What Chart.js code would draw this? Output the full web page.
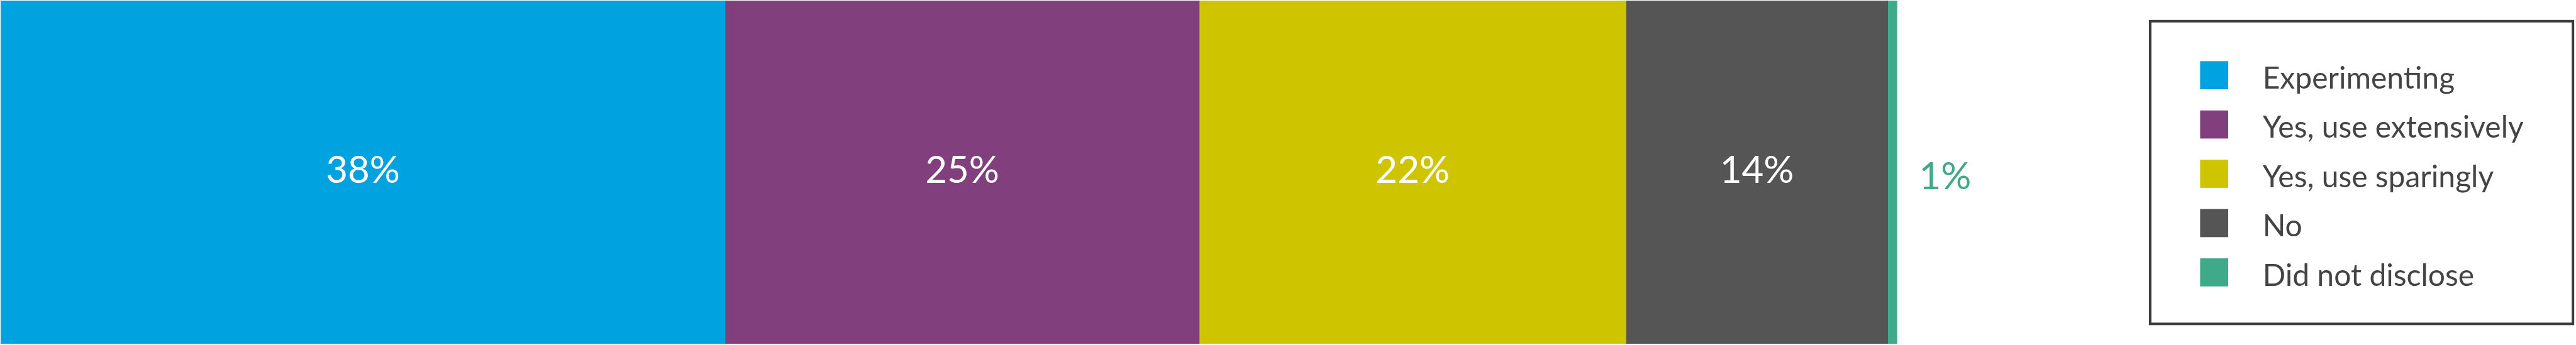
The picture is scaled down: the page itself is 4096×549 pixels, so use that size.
<!DOCTYPE html>
<html lang="en">
<head>
  <meta charset="UTF-8">
  <title>AI use</title>
  <script src="https://cdn.jsdelivr.net/npm/chart.js"></script>
  <style>
    body {
      margin: 0;
      background: #ffffff;
      overflow: hidden;
    }
    #wrap {
      width: 4096px;
      height: 549px;
    }
  </style>
</head>
<body>
  <div id="wrap">
    <canvas id="shareChart" width="4096" height="549"></canvas>
  </div>

  <script>
    // values (segment widths), labels as printed
    const categories = ["Experimenting", "Yes, use extensively", "Yes, use sparingly", "No", "Did not disclose"];
    const shares = [38.2, 25.0, 22.5, 13.8, 0.5];
    const shareLabels = ["38%", "25%", "22%", "14%", "1%"];
    const colors = ["#00a2e0", "#823f7e", "#cfc400", "#555555", "#3fa98a"];

    const S = 0.993;
    const FONT = "Lato, 'Noto Sans', sans-serif";

    const datasets = categories.map((name, i) => ({
      label: name,
      data: [shares[i]],
      backgroundColor: colors[i],
      borderWidth: 0,
      categoryPercentage: 1,
      barPercentage: 1
    }));

    // text on / beside each segment
    const segmentLabels = {
      id: "segmentLabels",
      afterDatasetsDraw(chart) {
        const ctx = chart.ctx;
        ctx.save();
        ctx.font = `${Math.round(60 * S)}px ${FONT}`;
        ctx.textBaseline = "alphabetic";
        chart.data.datasets.forEach((ds, i) => {
          const bar = chart.getDatasetMeta(i).data[0];
          const text = shareLabels[i];
          if (bar.width > 150) {
            ctx.fillStyle = "#ffffff";
            ctx.textAlign = "center";
            ctx.fillText(text, (bar.base + bar.x) / 2, bar.y + 17 * S);
          } else {
            ctx.fillStyle = colors[i];
            ctx.textAlign = "left";
            ctx.fillText(text, bar.x + 35 * S, bar.y + 27 * S);
          }
        });
        ctx.restore();
      }
    };

    // boxed legend on the right
    const boxLegend = {
      id: "boxLegend",
      afterDraw(chart) {
        const ctx = chart.ctx;
        const left = 3441 * S, top = 32 * S;
        const w = 681 * S, h = 489 * S;
        const bw = 4 * S;
        ctx.save();
        ctx.strokeStyle = "#3c3c3c";
        ctx.lineWidth = bw;
        ctx.strokeRect(left + bw / 2, top + bw / 2, w - bw, h - bw);
        ctx.font = `${Math.round(48 * S)}px ${FONT}`;
        ctx.textAlign = "left";
        ctx.textBaseline = "alphabetic";
        chart.data.datasets.forEach((ds, i) => {
          const y = top + (66 + i * 79) * S;
          ctx.fillStyle = ds.backgroundColor;
          ctx.fillRect(left + 82 * S, y, 45 * S, 45 * S);
          ctx.fillStyle = "#444444";
          ctx.fillText(ds.label, left + 182 * S, y + 44 * S);
        });
        ctx.restore();
      }
    };

    new Chart(document.getElementById("shareChart").getContext("2d"), {
      type: "bar",
      data: {
        labels: ["All"],
        datasets: datasets
      },
      options: {
        indexAxis: "y",
        responsive: false,
        animation: false,
        layout: {
          padding: { left: 1 * S, right: 4096 - 3038 * S, top: 1 * S, bottom: 549 - 551 * S }
        },
        plugins: {
          legend: { display: false },
          tooltip: { enabled: false }
        },
        scales: {
          x: { stacked: true, min: 0, max: 100, display: false },
          y: { stacked: true, display: false }
        }
      },
      plugins: [segmentLabels, boxLegend]
    });
  </script>
</body>
</html>
